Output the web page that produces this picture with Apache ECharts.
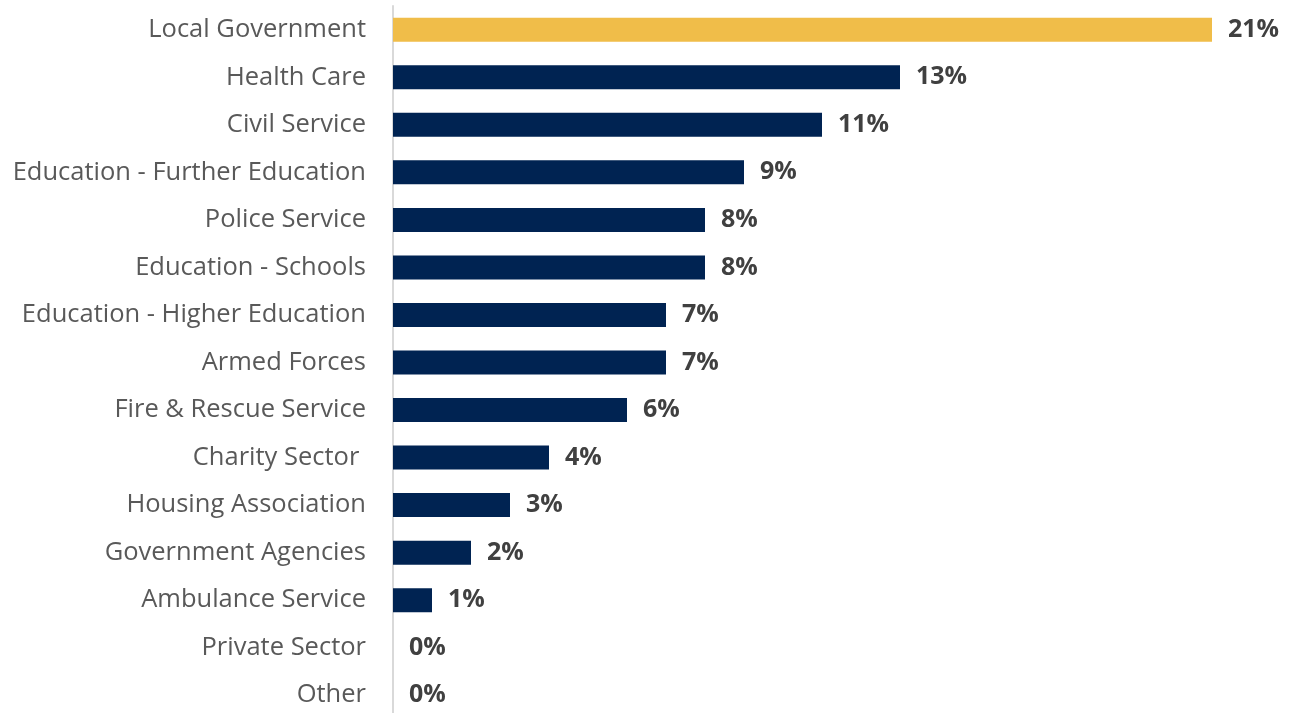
<!DOCTYPE html>
<html>
<head>
<meta charset="utf-8">
<script src="https://cdn.jsdelivr.net/npm/echarts@6/dist/echarts.min.js"></script>
<style>
  html, body { margin: 0; padding: 0; background: #ffffff; }
  #chart { width: 1289px; height: 713px; }
</style>
</head>
<body>
<div id="chart"></div>
<script>
// Sector names, listed top to bottom
const sectors = [
  'Local Government',
  'Health Care',
  'Civil Service',
  'Education - Further Education',
  'Police Service',
  'Education - Schools',
  'Education - Higher Education',
  'Armed Forces',
  'Fire & Rescue Service',
  'Charity Sector ',
  'Housing Association',
  'Government Agencies',
  'Ambulance Service',
  'Private Sector',
  'Other'
];

// Share of respondents per sector (%)
const shares = [21, 13, 11, 9, 8, 8, 7, 7, 6, 4, 3, 2, 1, 0, 0];

const NAVY = '#002352';
const GOLD = '#F0BD49';

const chart = echarts.init(document.getElementById('chart'), null, { renderer: 'canvas' });

chart.setOption({
  animation: false,
  backgroundColor: '#ffffff',
  // the plot area runs slightly past the bottom edge, so the last row sits low
  grid: { left: 393, width: 858, top: 6, height: 713, outerBoundsMode: 'none', containLabel: false },
  xAxis: {
    type: 'value',
    min: 0,
    max: 22,
    show: false
  },
  yAxis: {
    type: 'category',
    data: sectors,
    inverse: true,
    axisLine: { show: true, lineStyle: { color: '#d9d9d9', width: 2 } },
    axisTick: { show: false },
    axisLabel: {
      color: '#595959',
      fontFamily: 'Open Sans',
      fontSize: 25.5,
      margin: 27
    }
  },
  series: [{
    type: 'bar',
    data: shares.map((v, i) => ({
      value: v,
      itemStyle: { color: i === 0 ? GOLD : NAVY }
    })),
    barWidth: 24,
    label: {
      show: true,
      position: 'right',
      distance: 16,
      formatter: p => p.value + '%',
      color: '#404040',
      fontFamily: 'Open Sans',
      fontWeight: 'bold',
      fontSize: 25
    }
  }]
});
</script>
</body>
</html>
